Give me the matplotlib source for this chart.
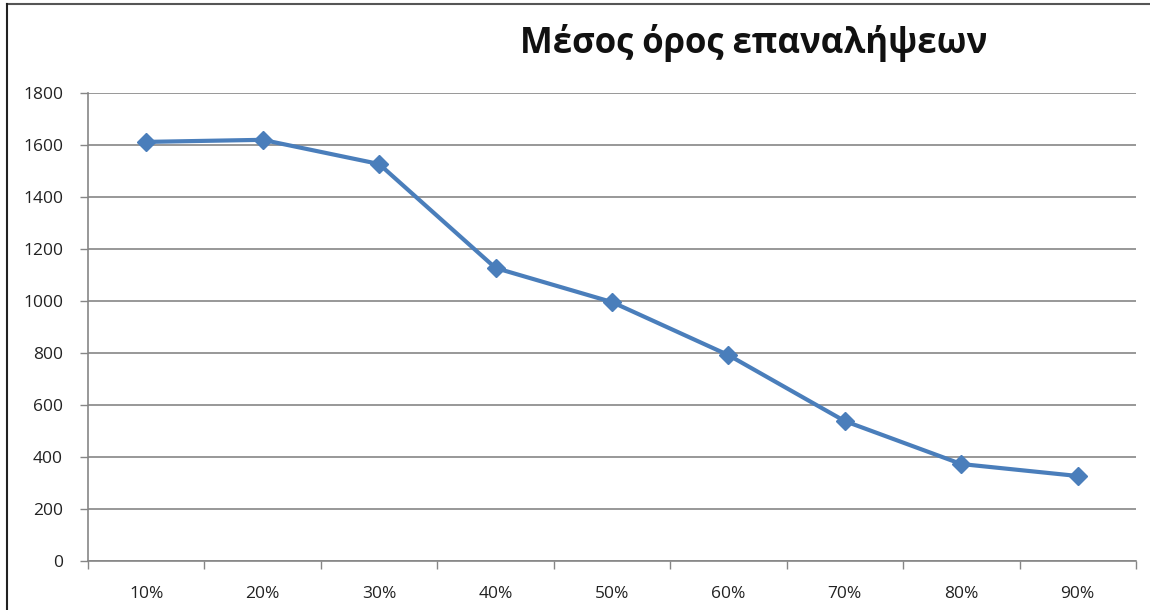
import matplotlib
matplotlib.use('Agg')
import matplotlib.pyplot as plt
from matplotlib.lines import Line2D

# Data
categories = ['10%', '20%', '30%', '40%', '50%', '60%', '70%', '80%', '90%']
values = [1612, 1620, 1527, 1127, 996, 792, 538, 373, 327]
y_ticks = [0, 200, 400, 600, 800, 1000, 1200, 1400, 1600, 1800]

fig = plt.figure(figsize=(11.5, 6.1), dpi=100)
ax = fig.add_axes([0.0765, 0.0803, 0.9113, 0.7672])

x = list(range(len(categories)))
ax.plot(x, values, color='#4A7EBB', linewidth=3, marker='D', markersize=9,
        markeredgecolor='#4A7EBB', markerfacecolor='#4A7EBB', zorder=3)

ax.set_xlim(-0.5, len(categories) - 0.5)
ax.set_ylim(0, 1800)
ax.set_yticks(y_ticks)
ax.set_yticklabels([str(t) for t in y_ticks])

# category labels in the middle, tick marks on the boundaries
ax.set_xticks(x)
ax.set_xticklabels(categories)
ax.set_xticks([i - 0.5 for i in range(len(categories) + 1)], minor=True)
ax.tick_params(axis='x', which='major', length=0, pad=18)
ax.tick_params(axis='x', which='minor', length=6, color='#868686', width=1)
ax.tick_params(axis='y', length=6, color='#868686', width=1, pad=12)
for lab in ax.get_xticklabels() + ax.get_yticklabels():
    lab.set_fontfamily('Open Sans')
    lab.set_fontsize(12.5)
    lab.set_color('#222222')

ax.grid(axis='y', color='#868686', linewidth=1.2)
ax.set_axisbelow(True)
for side in ['top', 'right']:
    ax.spines[side].set_visible(False)
for side in ['left', 'bottom']:
    ax.spines[side].set_color('#868686')
    ax.spines[side].set_linewidth(1.2)

fig.text(0.655, 0.93, 'Μέσος όρος επαναλήψεων', ha='center', va='center',
         fontsize=25, fontweight='bold', family='Open Sans', color='#111111')

# outer chart border (top and left visible in the crop)
fig.add_artist(Line2D([0.006, 1.0], [0.9935, 0.9935], transform=fig.transFigure, color='#555555', linewidth=1.5))
fig.add_artist(Line2D([0.006, 0.006], [0.0, 0.9935], transform=fig.transFigure, color='#222222', linewidth=1.5))

fig.savefig('out.png', dpi=100)
